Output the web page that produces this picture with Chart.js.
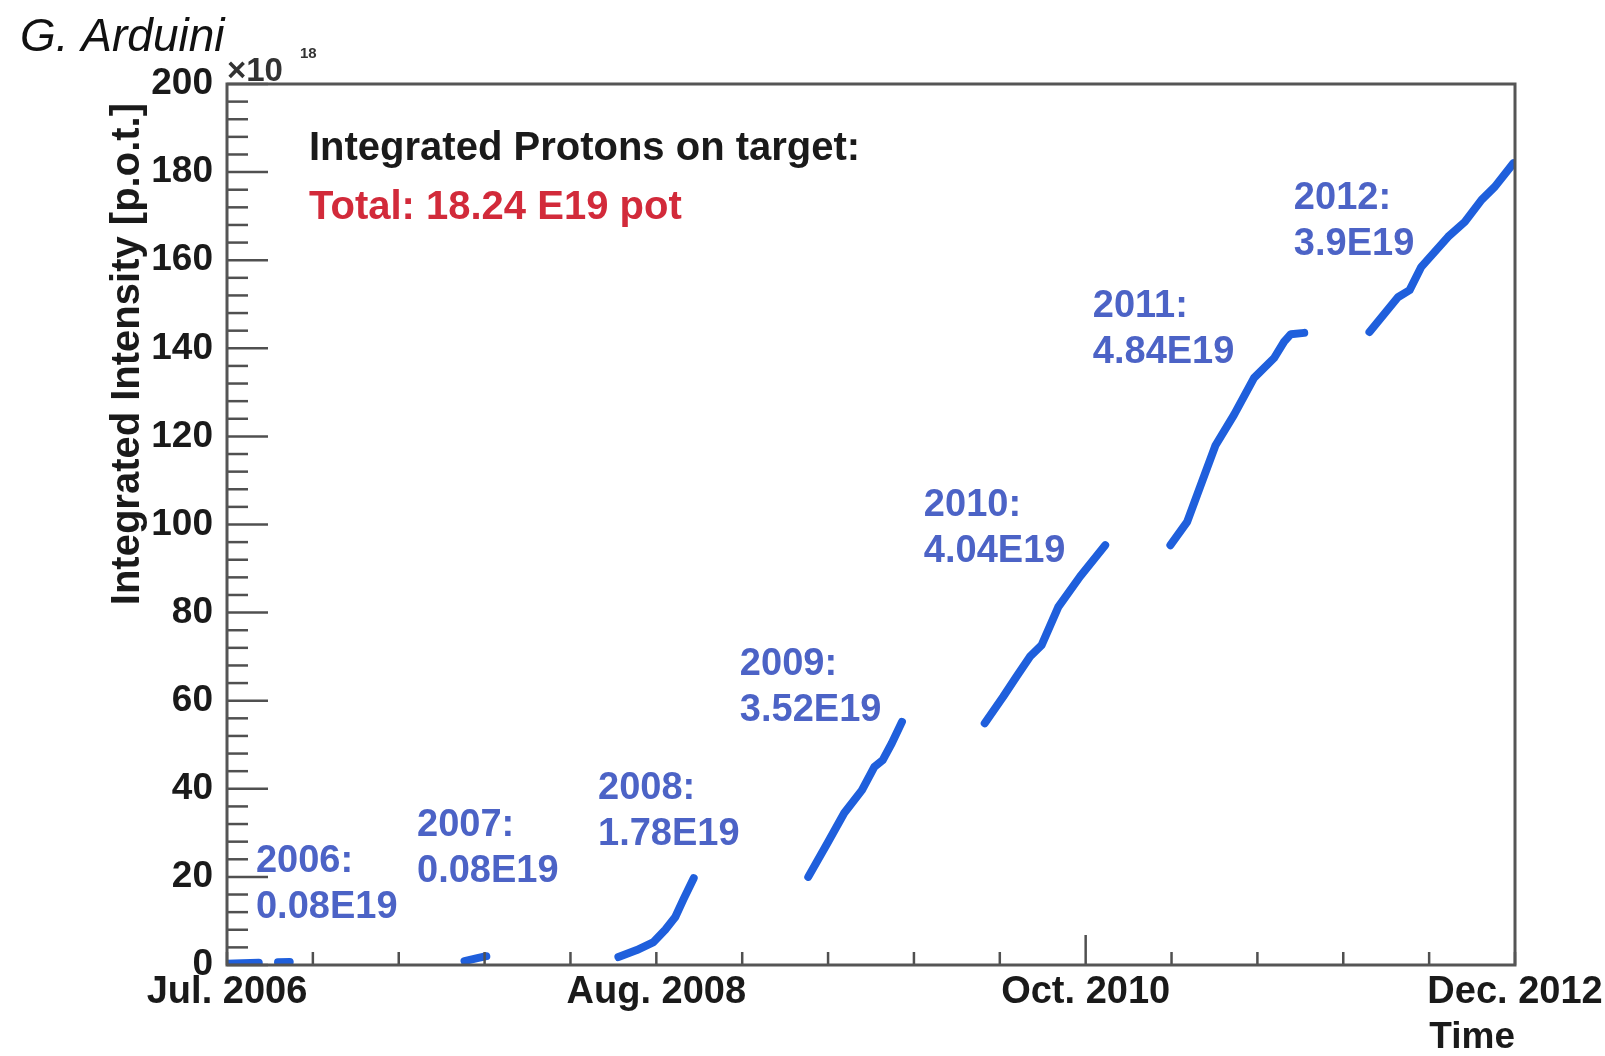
<!DOCTYPE html>
<html>
<head>
<meta charset="utf-8">
<title>Integrated protons on target</title>
<script src="https://cdn.jsdelivr.net/npm/chart.js@4.4.1/dist/chart.umd.min.js"></script>
<style>
  html, body { margin: 0; padding: 0; background: #fff; }
  #wrap { width: 1605px; height: 1056px; position: relative; }
</style>
</head>
<body>
<div id="wrap"><canvas id="potChart"></canvas></div>
<script>
// x = months since 1 Jul 2006, y = integrated p.o.t. in units of 1e18
const months2006 = [0, 0.9, 1.9, 2.5, 3.05, 3.75];
const pot2006 = [0.3, 0.4, 0.5, null, 0.6, 0.7];
const months2007 = [14.2, 14.9, 15.5];
const pot2007 = [0.9, 1.5, 2.0];
const months2008 = [23.4, 24.5, 25.5, 26.2, 26.8, 27.3, 27.9];
const pot2008 = [1.8, 3.4, 5.2, 8.0, 10.9, 15.0, 19.7];
const months2009 = [34.75, 35.9, 36.9, 37.96, 38.7, 39.2, 39.75, 40.35];
const pot2009 = [20.0, 27.7, 34.5, 39.7, 45.0, 46.5, 50.4, 55.2];
const months2010 = [45.3, 46.4, 47.2, 48.0, 48.7, 49.7, 51.0, 52.5];
const pot2010 = [54.9, 60.9, 65.5, 70.0, 72.6, 81.3, 88.2, 95.3];
const months2011 = [56.4, 57.4, 58.5, 59.1, 60.2, 61.4, 62.6, 63.2, 63.6, 64.4];
const pot2011 = [95.3, 100.6, 111.9, 118.0, 124.9, 133.3, 137.8, 141.5, 143.2, 143.5];
const months2012 = [68.3, 70.0, 70.7, 71.4, 73.0, 74.0, 75.0, 75.8, 76.9];
const pot2012 = [143.7, 151.6, 153.2, 158.5, 165.3, 168.7, 173.7, 176.7, 182.0];

const yearLabels = ["2006:", "2007:", "2008:", "2009:", "2010:", "2011:", "2012:"];
const yearTotals = ["0.08E19", "0.08E19", "1.78E19", "3.52E19", "4.04E19", "4.84E19", "3.9E19"];
const xTickLabels = ["Jul. 2006", "Aug. 2008", "Oct. 2010", "Dec. 2012"];
const monthsSpan = 77;   // Jul 2006 -> Dec 2012
const xDivisions = 15;

// where each year's note sits (months, value of first baseline)
const noteAnchors = [
  [1.73, 21.1], [11.36, 29.3], [22.18, 37.7], [30.66, 65.8],
  [41.66, 101.9], [51.76, 147.1], [63.78, 171.6],
];

const FONT = "'Liberation Sans', Arial, sans-serif";
const lineBlue = "#1f5fdc";
const noteBlue = "#4c63c6";

function toPoints(xs, ys) {
  return xs.map((m, i) => ({ x: m, y: ys[i] }));
}

const segments = [
  [months2006, pot2006], [months2007, pot2007], [months2008, pot2008],
  [months2009, pot2009], [months2010, pot2010], [months2011, pot2011],
  [months2012, pot2012],
];

const frameAndText = {
  id: "frameAndText",
  afterDraw(chart) {
    const { ctx, chartArea: area } = chart;
    const x = chart.scales.x;
    const y = chart.scales.y;
    ctx.save();

    // ROOT style ticks, pointing into the frame
    ctx.strokeStyle = "#505050";
    ctx.lineWidth = 2.5;
    y.ticks.forEach((t) => {
      const py = y.getPixelForValue(t.value);
      const len = t.value % 20 === 0 ? 41 : 21;
      ctx.beginPath();
      ctx.moveTo(area.left, py);
      ctx.lineTo(area.left + len, py);
      ctx.stroke();
    });
    x.ticks.forEach((t, i) => {
      const px = x.getPixelForValue(t.value);
      const len = i === 10 ? 30 : 13;
      ctx.beginPath();
      ctx.moveTo(px, area.bottom);
      ctx.lineTo(px, area.bottom - len);
      ctx.stroke();
    });

    ctx.lineWidth = 3;
    ctx.strokeStyle = "#555";
    ctx.strokeRect(area.left, area.top, area.right - area.left, area.bottom - area.top);

    // author
    ctx.fillStyle = "#111";
    ctx.textBaseline = "alphabetic";
    ctx.textAlign = "left";
    ctx.font = `italic 46px ${FONT}`;
    ctx.fillText("G. Arduini", 20, 51);

    // exponent
    ctx.font = `bold 33px ${FONT}`;
    ctx.fillStyle = "#333";
    ctx.fillText("\u00d710", 227, 81);
    ctx.font = `bold 15px ${FONT}`;
    ctx.fillText("18", 300, 58);

    // y title
    ctx.save();
    ctx.translate(139, 103);
    ctx.rotate(-Math.PI / 2);
    ctx.textAlign = "right";
    ctx.font = `bold 40px ${FONT}`;
    ctx.fillStyle = "#1a1a1a";
    ctx.fillText("Integrated Intensity [p.o.t.]", 0, 0);
    ctx.restore();

    // header
    ctx.font = `bold 40px ${FONT}`;
    ctx.fillStyle = "#1a1a1a";
    ctx.fillText("Integrated Protons on target:", 309, 160);
    ctx.fillStyle = "#d22a3a";
    ctx.fillText("Total: 18.24 E19 pot", 309, 219);

    // per-year notes
    ctx.font = `bold 38px ${FONT}`;
    ctx.fillStyle = noteBlue;
    noteAnchors.forEach(([m, v], i) => {
      const px = x.getPixelForValue(m);
      const py = y.getPixelForValue(v);
      ctx.fillText(yearLabels[i], px, py);
      ctx.fillText(yearTotals[i], px, py + 46);
    });

    ctx.restore();
  },
};

new Chart(document.getElementById("potChart"), {
  type: "line",
  data: {
    datasets: segments.map(([xs, ys], i) => ({
      label: yearLabels[i],
      data: toPoints(xs, ys),
      borderColor: lineBlue,
      borderWidth: 8,
      borderCapStyle: "round",
      borderJoinStyle: "round",
      pointRadius: 0,
      tension: 0,
      spanGaps: false,
    })),
  },
  options: {
    responsive: true,
    maintainAspectRatio: false,
    animation: false,
    layout: { padding: { top: 84, right: 90, left: 0, bottom: 0 } },
    plugins: {
      legend: { display: false },
      tooltip: { enabled: false },
    },
    scales: {
      x: {
        type: "linear",
        min: 0,
        max: monthsSpan,
        grid: { display: false, drawTicks: false },
        border: { display: false },
        afterBuildTicks: (scale) => {
          scale.ticks = Array.from({ length: xDivisions + 1 }, (_, k) => ({
            value: (k * monthsSpan) / xDivisions,
          }));
        },
        afterFit: (scale) => {
          scale.height = 91;
          scale.paddingLeft = 0;
          scale.paddingRight = 0;
        },
        ticks: {
          autoSkip: false,
          maxRotation: 0,
          minRotation: 0,
          padding: 5,
          color: "#1a1a1a",
          font: { family: FONT, size: 38, weight: "bold", lineHeight: 1.2 },
          callback: (value, index) => (index % 5 === 0 ? xTickLabels[index / 5] : ""),
        },
        title: {
          display: true,
          text: "Time",
          align: "end",
          color: "#1a1a1a",
          padding: { top: 0, bottom: 0 },
          font: { family: FONT, size: 37, weight: "bold", lineHeight: 1 },
        },
      },
      y: {
        type: "linear",
        min: 0,
        max: 200,
        grid: { display: false, drawTicks: false },
        border: { display: false },
        afterBuildTicks: (scale) => {
          scale.ticks = Array.from({ length: 51 }, (_, k) => ({ value: k * 4 }));
        },
        afterFit: (scale) => {
          scale.width = 227;
          scale.paddingTop = 0;
          scale.paddingBottom = 0;
        },
        ticks: {
          autoSkip: false,
          padding: 14,
          color: "#1a1a1a",
          font: { family: FONT, size: 37, weight: "bold" },
          callback: (value) => (value % 20 === 0 ? String(value) : ""),
        },
      },
    },
  },
  plugins: [frameAndText],
});
</script>
</body>
</html>
